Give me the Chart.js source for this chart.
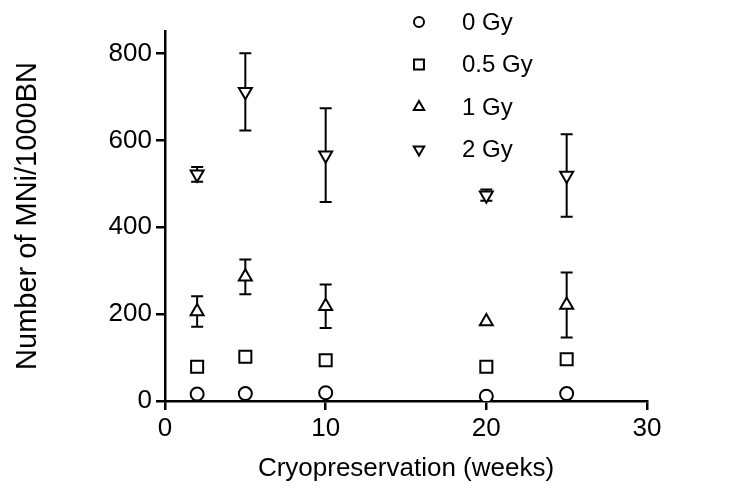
<!DOCTYPE html>
<html><head><meta charset="utf-8">
<script src="https://cdn.jsdelivr.net/npm/chart.js@4"></script>
<style>html,body{margin:0;padding:0;background:#fff}#wrap{width:734px;height:488px;position:relative}</style>
</head><body><div id="wrap"><canvas id="c"></canvas></div>
<script>
const weeks = [2, 5, 10, 20, 25];
const seriesNames = ['0 Gy', '0.5 Gy', '1 Gy', '2 Gy'];
const gy0 = [16, 17, 19, 11, 17];
const gy0Err = [0, 7, 0, 0, 0];
const gy05 = [79, 102, 94, 79, 96];
const gy05Err = [0, 0, 0, 0, 7];
const gy1 = [206, 286, 218, 183, 221];
const gy1Err = [35, 40, 50, 0, 75];
const gy2 = [522, 712, 566, 474, 519];
const gy2Err = [17, 89, 108, 13, 95];
const yTicks = [0, 200, 400, 600, 800];
const xTicks = [0, 10, 20, 30];

const FONT = "'Liberation Sans', Arial, sans-serif";
const styles = [
  {pointStyle: 'circle', radius: 6.5, rot: 0, lr: 5},
  {pointStyle: 'rect', radius: 8.5, rot: 0, lr: 7},
  {pointStyle: 'triangle', radius: 7.5, rot: 0, lr: 6},
  {pointStyle: 'triangle', radius: 7.5, rot: 180, lr: 6}
];
const values = [gy0, gy05, gy1, gy2];
const errs = [gy0Err, gy05Err, gy1Err, gy2Err];

const datasets = seriesNames.map((name, i) => ({
  label: name,
  data: weeks.map((w, j) => ({x: w, y: values[i][j]})),
  errors: errs[i],
  pointStyle: styles[i].pointStyle,
  pointRotation: styles[i].rot,
  pointRadius: styles[i].radius,
  pointBackgroundColor: '#fff',
  pointBorderColor: '#000',
  pointBorderWidth: 2,
  showLine: false
}));

const errorBars = {
  id: 'errorBars',
  beforeDatasetsDraw(chart) {
    const ctx = chart.ctx, xs = chart.scales.x, ys = chart.scales.y;
    ctx.save();
    ctx.strokeStyle = '#000';
    ctx.lineWidth = 2;
    chart.data.datasets.forEach(ds => {
      ds.data.forEach((p, j) => {
        const e = ds.errors[j];
        if (!e) return;
        const x = xs.getPixelForValue(p.x);
        const y1 = ys.getPixelForValue(p.y + e);
        const y2 = ys.getPixelForValue(p.y - e);
        ctx.beginPath();
        ctx.moveTo(x, y1); ctx.lineTo(x, y2);
        ctx.moveTo(x - 6, y1); ctx.lineTo(x + 6, y1);
        ctx.moveTo(x - 6, y2); ctx.lineTo(x + 6, y2);
        ctx.stroke();
      });
    });
    ctx.restore();
  }
};

const legendBox = {
  id: 'legendBox',
  afterDraw(chart) {
    const ctx = chart.ctx;
    chart.data.datasets.forEach((ds, i) => {
      const y = 22 + i * 42.5;
      ctx.save();
      ctx.fillStyle = '#fff';
      ctx.strokeStyle = '#000';
      ctx.lineWidth = 2;
      Chart.helpers.drawPoint(ctx, {
        pointStyle: styles[i].pointStyle, rotation: styles[i].rot,
        radius: styles[i].lr, borderWidth: 2
      }, 419, y);
      ctx.restore();
      ctx.save();
      ctx.font = '24px ' + FONT;
      ctx.fillStyle = '#000';
      ctx.textBaseline = 'middle';
      ctx.textAlign = 'left';
      ctx.fillText(ds.label, 462, y + 1);
      ctx.restore();
    });
  }
};

new Chart(document.getElementById('c'), {
  type: 'scatter',
  data: {datasets},
  options: {
    responsive: true,
    maintainAspectRatio: false,
    animation: false,
    events: [],
    layout: {padding: {top: 31, right: 87, left: 0, bottom: 0}},
    plugins: {legend: {display: false}, tooltip: {enabled: false}},
    elements: {point: {borderColor: '#000', backgroundColor: '#fff'}},
    scales: {
      x: {
        type: 'linear', min: 0, max: 30,
        afterFit: s => { s.height = 87; },
        afterBuildTicks: s => { s.ticks = xTicks.map(v => ({value: v})); },
        grid: {drawOnChartArea: false, drawTicks: true, tickLength: 9, color: '#000', lineWidth: 2.5},
        border: {display: true, color: '#000', width: 2.5},
        ticks: {color: '#000', font: {family: FONT, size: 26}, padding: 3, maxRotation: 0},
        title: {display: true, text: 'Cryopreservation (weeks)', color: '#000', font: {family: FONT, size: 26}, padding: {top: 0, bottom: 4}}
      },
      y: {
        type: 'linear', min: 0, max: 852,
        afterFit: s => { s.width = 165; },
        afterBuildTicks: s => { s.ticks = yTicks.map(v => ({value: v})); },
        grid: {drawOnChartArea: false, drawTicks: true, tickLength: 9, color: '#000', lineWidth: 2.5},
        border: {display: true, color: '#000', width: 2.5},
        ticks: {color: '#000', font: {family: FONT, size: 26}, padding: 4},
        title: {display: true, text: 'Number of MNi/1000BN', color: '#000', font: {family: FONT, size: 29}, padding: {top: 11, bottom: 0}}
      }
    }
  },
  plugins: [errorBars, legendBox]
});
</script>
</body></html>
